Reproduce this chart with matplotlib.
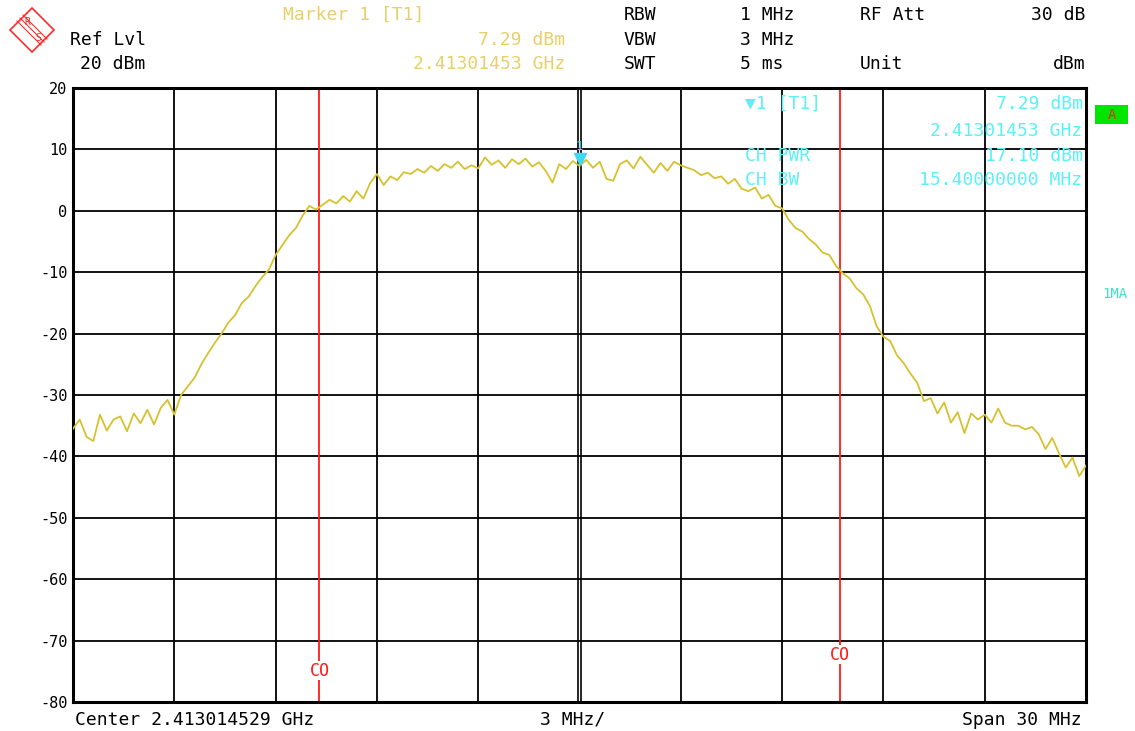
import numpy as np
import matplotlib
matplotlib.use("Agg")
import matplotlib.pyplot as plt
from matplotlib.patches import Polygon, Rectangle

# Sweep: 151 points, -15 .. +15 MHz offset from centre
freq_offset_mhz = np.linspace(-15, 15, 151)

# trace level (dBm)
level_dbm = [
    -35.5, -34.0, -36.8, -37.5, -33.2, -35.8, -34.0, -33.5, -35.9, -33.0,
    -34.6, -32.4, -34.8, -32.1, -30.8, -33.2, -30.0, -28.6, -27.2, -25.0,
    -23.2, -21.5, -20.0, -18.2, -17.0, -15.0, -14.0, -12.3, -10.8, -9.6,
    -7.2, -5.6, -4.0, -2.8, -0.8, 0.8, 0.2, 1.0, 1.8, 1.2,
    2.4, 1.5, 3.2, 2.0, 4.5, 6.0, 4.2, 5.6, 5.0, 6.3,
    6.0, 6.8, 6.2, 7.3, 6.5, 7.6, 7.0, 8.0, 6.8, 7.4,
    6.9, 8.7, 7.5, 8.2, 7.0, 8.4, 7.6, 8.5, 7.2, 7.9,
    6.5, 4.6, 7.6, 6.8, 8.1, 7.29, 8.3, 7.0, 8.0, 5.2,
    4.9, 7.6, 8.2, 6.9, 8.8, 7.5, 6.2, 7.8, 6.5, 8.0,
    7.4, 7.0, 6.6, 5.8, 6.2, 5.3, 5.6, 4.4, 5.2, 3.6,
    3.2, 3.8, 2.0, 2.6, 0.8, 0.4, -1.5, -2.8, -3.4, -4.6,
    -5.5, -6.8, -7.2, -9.0, -10.2, -11.0, -12.6, -13.6, -15.5, -18.8,
    -20.5, -21.2, -23.5, -24.8, -26.5, -28.0, -31.0, -30.5, -33.0, -31.2,
    -34.5, -32.8, -36.2, -33.0, -34.0, -33.2, -34.5, -32.2, -34.5, -35.0,
    -35.0, -35.6, -35.2, -36.4, -38.8, -37.0, -39.5, -41.8, -40.2, -43.2,
    -41.5,
]

y_ticks = [20, 10, 0, -10, -20, -30, -40, -50, -60, -70, -80]
channel_edges_mhz = [-7.7, 7.7]
marker_mhz = 0.0
marker_dbm = 7.29

trace_col = "#d6c22e"
info_yel = "#e8cf6a"
cyan = "#5cf0f8"
mono = "DejaVu Sans Mono"
fs = 13

fig = plt.figure(figsize=(11.35, 7.31), dpi=100)
ax = fig.add_axes([73 / 1135, 1 - 702 / 731, 1013 / 1135, 614 / 731])
ax.set_xlim(-15, 15)
ax.set_ylim(-80, 20)

# grid
for v in y_ticks[1:-1]:
    ax.axhline(v, color="black", lw=1.3, zorder=1)
for k in range(1, 10):
    x = -15 + 3 * k
    if k == 5:
        ax.axvline(x - 0.05, color="black", lw=1.2, zorder=1)
        ax.axvline(x + 0.05, color="black", lw=1.2, zorder=1)
    else:
        ax.axvline(x, color="black", lw=1.3, zorder=1)

for s in ax.spines.values():
    s.set_linewidth(2.2)
ax.set_xticks([])
ax.set_yticks(y_ticks)
ax.set_yticklabels([str(v) for v in y_ticks], fontsize=11, family=mono)
ax.tick_params(axis="y", length=0, pad=4)

# channel lines
for f in channel_edges_mhz:
    ax.axvline(f, color="#ff1a1a", lw=1.3, zorder=2)
ax.text(channel_edges_mhz[0], -74.9, "CO", color="#ff1a1a", fontsize=12, family=mono,
        ha="center", va="center", zorder=3, bbox=dict(fc="white", ec="none", pad=0.5))
ax.text(channel_edges_mhz[1], -72.3, "CO", color="#ff1a1a", fontsize=12, family=mono,
        ha="center", va="center", zorder=3, bbox=dict(fc="white", ec="none", pad=0.5))

# trace
ax.plot(freq_offset_mhz, level_dbm, color=trace_col, lw=1.3, zorder=4)

# marker
ax.plot([marker_mhz], [marker_dbm + 1.2], marker="v", color="#40d8f0", ms=8, zorder=5)
ax.text(marker_mhz, marker_dbm + 3.2, "1", color="#40d8f0", fontsize=9, family=mono,
        ha="center", va="center", zorder=5)

# marker readout inside the diagram
ax.text(4.9, 17.4, "\u25bc1 [T1]", color=cyan, fontsize=fs, family=mono, ha="left", va="center")
ax.text(14.9, 17.4, "7.29 dBm", color=cyan, fontsize=fs, family=mono, ha="right", va="center")
ax.text(14.9, 13.0, "2.41301453 GHz", color=cyan, fontsize=fs, family=mono, ha="right", va="center")
ax.text(4.9, 9.0, "CH PWR", color=cyan, fontsize=fs, family=mono, ha="left", va="center")
ax.text(14.9, 9.0, "17.10 dBm", color=cyan, fontsize=fs, family=mono, ha="right", va="center")
ax.text(4.9, 5.0, "CH BW", color=cyan, fontsize=fs, family=mono, ha="left", va="center")
ax.text(14.9, 5.0, "15.40000000 MHz", color=cyan, fontsize=fs, family=mono, ha="right", va="center")


def ft(x, y, s, color="black", ha="left", size=fs):
    fig.text(x / 1135, 1 - y / 731, s, color=color, ha=ha, va="center",
             fontsize=size, family=mono)


# header
ft(70, 40, "Ref Lvl")
ft(80, 64, "20 dBm")
ft(283, 15, "Marker 1 [T1]", info_yel)
ft(565, 40, "7.29 dBm", info_yel, "right")
ft(565, 64, "2.41301453 GHz", info_yel, "right")
ft(624, 15, "RBW")
ft(624, 40, "VBW")
ft(624, 64, "SWT")
ft(740, 15, "1 MHz")
ft(740, 40, "3 MHz")
ft(740, 64, "5 ms")
ft(860, 15, "RF Att")
ft(860, 64, "Unit")
ft(1085, 15, "30 dB", ha="right")
ft(1085, 64, "dBm", ha="right")

# footer
ft(75, 720, "Center 2.413014529 GHz")
ft(540, 720, "3 MHz/")
ft(1082, 720, "Span 30 MHz", ha="right")

# side annotations
fig.patches.append(Rectangle((1095 / 1135, 1 - 124 / 731), 33 / 1135, 19 / 731,
                             transform=fig.transFigure, fc="#00e600", ec="none"))
ft(1111.5, 115, "A", "#ff2020", "center", 10)
ft(1115, 294, "1MA", "#40e0c8", "center", 10)

# R&S logo
cx, cy, r = 32, 30, 22
pts = [((cx) / 1135, 1 - (cy - r) / 731), ((cx + r) / 1135, 1 - cy / 731),
       ((cx) / 1135, 1 - (cy + r) / 731), ((cx - r) / 1135, 1 - cy / 731)]
fig.patches.append(Polygon(pts, closed=True, transform=fig.transFigure,
                           fc="none", ec="#ff2a2a", lw=1.2))
for d in (-3, 0, 3):
    fig.lines.append(plt.Line2D([(cx - 12 + d) / 1135, (cx + 12 + d) / 1135],
                                [1 - (cy - 12 - d) / 731, 1 - (cy + 12 - d) / 731],
                                transform=fig.transFigure, color="#ff2a2a", lw=0.8))
ft(27, 22, "R", "#ff2a2a", "center", 7)
ft(38, 38, "S", "#ff2a2a", "center", 7)

fig.savefig("out.png", dpi=100)
